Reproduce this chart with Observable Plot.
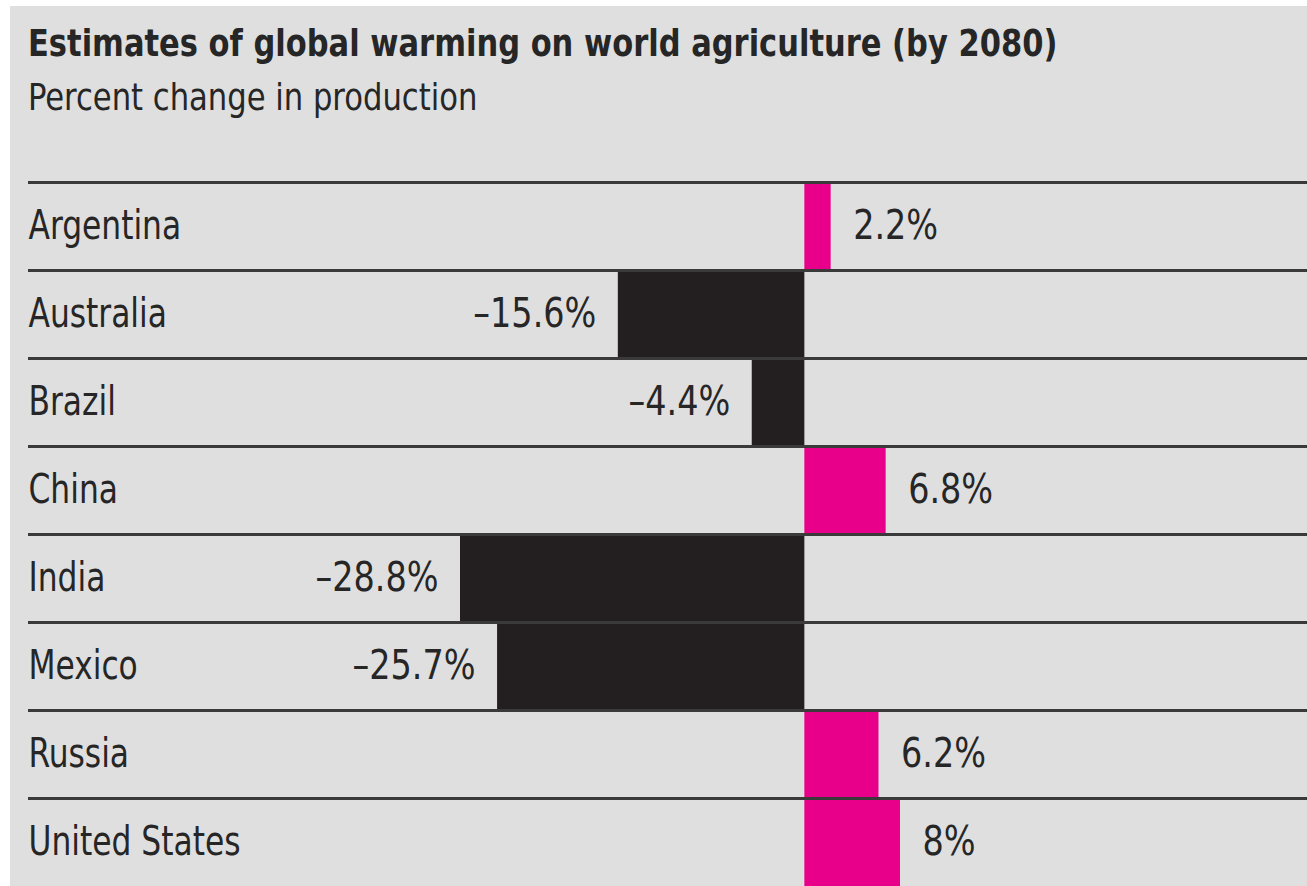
<!DOCTYPE html>
<html><head><meta charset="utf-8">
<script src="https://cdn.jsdelivr.net/npm/d3@7"></script>
<script src="https://cdn.jsdelivr.net/npm/@observablehq/plot@0.6"></script>
<style>
html,body{margin:0;padding:0;background:#fff;width:1307px;height:886px;overflow:hidden}
#panel{position:absolute;left:10px;top:6px;width:1297px;height:880px;background:#dfdfe0;overflow:hidden}
#head{position:relative;height:134px}
.t{position:absolute;left:18px;white-space:nowrap;color:#262626;font-family:"DejaVu Sans Condensed","DejaVu Sans",sans-serif;line-height:1;transform-origin:0 0}
#title{top:18px;font-size:38px;font-weight:bold;transform:scaleX(0.893)}
#sub{top:72px;font-size:38px;transform:scaleX(0.896)}
#chart svg{display:block}
</style>
</head>
<body>
<div id="panel">
  <div id="head">
    <div class="t" id="title">Estimates of global warming on world agriculture (by 2080)</div>
    <div class="t" id="sub">Percent change in production</div>
  </div>
  <div id="chart"></div>
</div>
<script>
const countries = ["Argentina","Australia","Brazil","China","India","Mexico","Russia","United States"];
const values = [2.2, -15.6, -4.4, 6.8, -28.8, -25.7, 6.2, 8];
const data = countries.map((c, i) => ({country: c, value: values[i]}));
const fmt = v => (v < 0 ? "\u2013" + Math.abs(v) : String(v)) + "%";

const W = 1297, H = 746, MT = 41, MB = 0;
const bw = (H - MT - MB) / countries.length;
const pink = "#e9008a", dark = "#231f20", lineC = "#3a3a3a";

const chart = Plot.plot({
  width: W, height: H,
  marginTop: MT, marginBottom: MB, marginLeft: 18, marginRight: 0,
  style: {background: "transparent", fontFamily: '"DejaVu Sans Condensed","DejaVu Sans",sans-serif', fontSize: "40px", color: "#262626"},
  x: {domain: [-28.8, 8], range: [450, 890], axis: null},
  y: {domain: countries, padding: 0, axis: null},
  marks: [
    Plot.barX(data, {x: "value", y: "country", fill: d => d.value < 0 ? dark : pink}),
    Plot.ruleY(countries, {y: d => d, dy: -bw / 2, stroke: lineC, strokeWidth: 3}),
    Plot.text(data, {y: "country", text: "country", frameAnchor: "left", textAnchor: "start"}),
    Plot.text(data.filter(d => d.value >= 0), {x: "value", y: "country", text: d => fmt(d.value), textAnchor: "start", dx: 22}),
    Plot.text(data.filter(d => d.value < 0), {x: "value", y: "country", text: d => fmt(d.value), textAnchor: "end", dx: -22})
  ]
});
// narrow the glyphs horizontally to match the condensed face of the original
const groups = chart.querySelectorAll('g[aria-label="text"]');
groups.forEach((g, gi) => {
  const k = gi === 0 ? 0.87 : 0.93;
  g.querySelectorAll("text").forEach(t => {
    const tr = t.getAttribute("transform") || "";
    t.setAttribute("transform", tr + ` scale(${k} 1)`);
  });
});
document.getElementById("chart").appendChild(chart);
</script>
</body></html>
